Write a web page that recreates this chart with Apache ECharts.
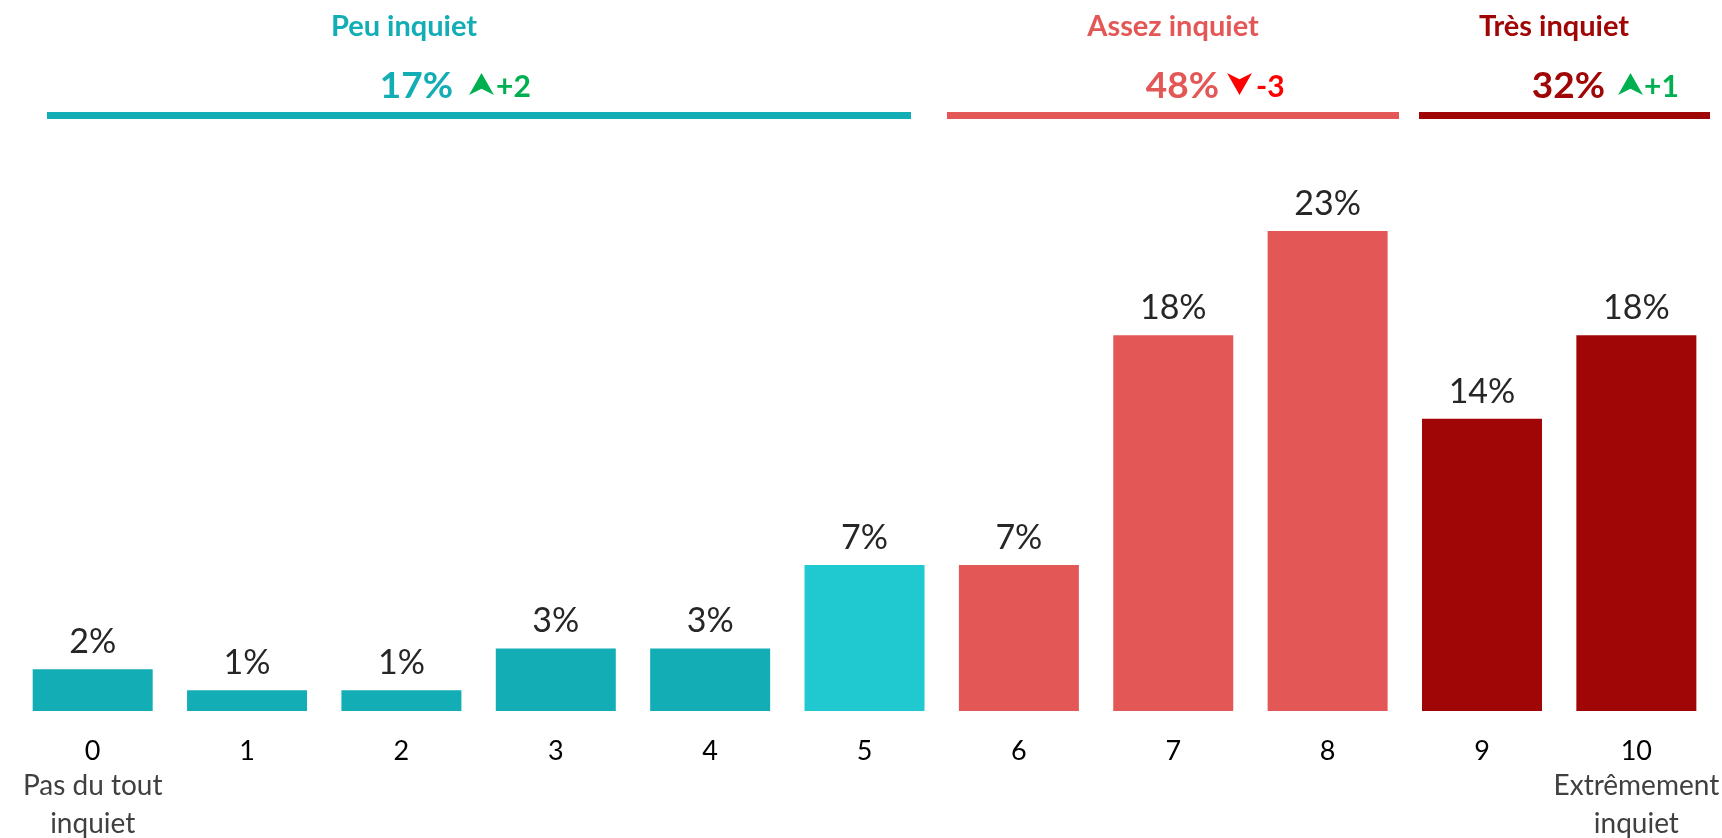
<!DOCTYPE html>
<html>
<head>
<meta charset="utf-8">
<script src="https://cdn.jsdelivr.net/npm/echarts@6/dist/echarts.min.js"></script>
<style>
  html, body { margin: 0; padding: 0; background: #fff; }
  #chart { width: 1722px; height: 838px; }
</style>
</head>
<body>
<div id="chart"></div>
<script>
// scale 0..10, share of answers (%)
const categories = ['0', '1', '2', '3', '4', '5', '6', '7', '8', '9', '10'];
const values = [2, 1, 1, 3, 3, 7, 7, 18, 23, 14, 18];
const lowNote = ['Pas du tout', 'inquiet'];
const highNote = ['Extrêmement', 'inquiet'];

// groups of the scale
const groupNames = ['Peu inquiet', 'Assez inquiet', 'Très inquiet'];
const groupFirst = [0, 6, 9];
const groupLast = [5, 8, 10];
const groupTotals = [17, 48, 32];
const groupDeltas = [2, -3, 1];

const groupColors = ['#13AEB5', '#E35857', '#A00606'];
const highlightColor = '#20C8D0'; // bar 5 is lighter in the original
const upColor = '#00B050';
const downColor = '#FF0000';
const FONT = 'Lato, "Open Sans", sans-serif';

// header placement (pixels)
const headerLayout = [
  { title: 404, totalRight: 453, arrow: 469, delta: 496, line: [47, 911] },
  { title: 1173, totalRight: 1219, arrow: 1227, delta: 1256, line: [947, 1399] },
  { title: 1554, totalRight: 1605, arrow: 1618, delta: 1644, line: [1419, 1710] }
];

function groupOf(i) {
  for (let g = 0; g < groupFirst.length; g++) {
    if (i >= groupFirst[g] && i <= groupLast[g]) return g;
  }
  return 0;
}

const chart = echarts.init(document.getElementById('chart'));

const header = [];
groupNames.forEach((name, g) => {
  const L = headerLayout[g];
  const color = groupColors[g];
  const d = groupDeltas[g];
  const dColor = d >= 0 ? upColor : downColor;
  header.push({
    type: 'text',
    style: { text: name, x: L.title, y: 27, align: 'center', verticalAlign: 'middle',
      fontFamily: FONT, fontWeight: 'bold', fontSize: 29, fill: color }
  });
  header.push({
    type: 'text',
    style: { text: groupTotals[g] + '%', x: L.totalRight, y: 86, align: 'right', verticalAlign: 'middle',
      fontFamily: FONT, fontWeight: 'bold', fontSize: 37, fill: color }
  });
  const ax = L.arrow, top = 73, w = 25, h = 22;
  const pts = d >= 0
    ? [[ax + w / 2, top], [ax + w, top + h], [ax + w / 2, top + h * 0.72], [ax, top + h]]
    : [[ax, top], [ax + w / 2, top + h * 0.28], [ax + w, top], [ax + w / 2, top + h]];
  header.push({ type: 'polygon', shape: { points: pts }, style: { fill: dColor } });
  header.push({
    type: 'text',
    style: { text: (d > 0 ? '+' : '') + d, x: L.delta, y: 87, align: 'left', verticalAlign: 'middle',
      fontFamily: FONT, fontWeight: 'bold', fontSize: 30, fill: dColor }
  });
  header.push({
    type: 'line',
    shape: { x1: L.line[0], y1: 115.5, x2: L.line[1], y2: 115.5 },
    style: { stroke: color, lineWidth: 7 }
  });
});

chart.setOption({
  animation: false,
  grid: { left: 15.5, right: 4.5, top: 231, bottom: 124 },
  xAxis: {
    type: 'category',
    data: categories,
    axisLine: { show: false },
    axisTick: { show: false },
    axisLabel: {
      interval: 0,
      margin: 25,
      formatter: (v, i) => {
        if (i === 0) return '{n|' + v + '}\n' + lowNote.map(s => '{s|' + s + '}').join('\n');
        if (i === categories.length - 1) return '{n|' + v + '}\n' + highNote.map(s => '{s|' + s + '}').join('\n');
        return '{n|' + v + '}';
      },
      rich: {
        n: { fontFamily: FONT, fontSize: 27, color: '#000', lineHeight: 31 },
        s: { fontFamily: FONT, fontSize: 28, color: '#404040', lineHeight: 38 }
      }
    }
  },
  yAxis: { type: 'value', min: 0, max: 23, show: false, splitLine: { show: false } },
  series: [{
    type: 'bar',
    data: values,
    barWidth: 120,
    itemStyle: {
      color: p => p.dataIndex === 5 ? highlightColor : groupColors[groupOf(p.dataIndex)]
    },
    label: {
      show: true,
      position: 'top',
      distance: 10,
      formatter: '{c}%',
      fontFamily: FONT,
      fontSize: 34,
      color: '#262626'
    }
  }],
  graphic: header
});
</script>
</body>
</html>
